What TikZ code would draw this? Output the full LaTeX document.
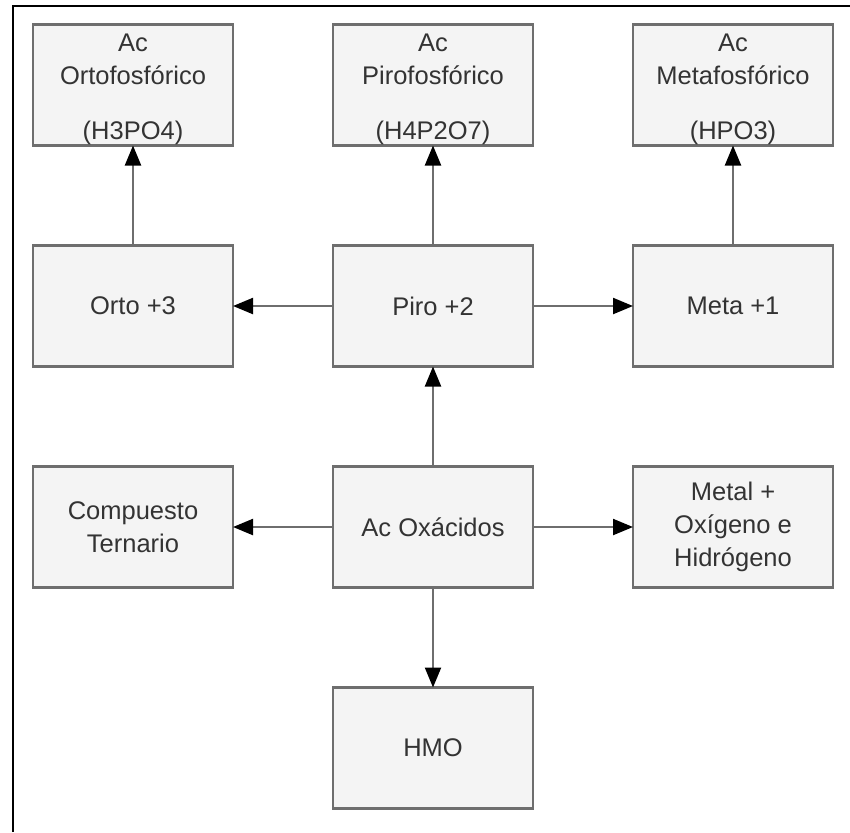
\documentclass[tikz,border=0pt]{standalone}
\usepackage{fontspec}
\setmainfont{Liberation Sans}
\usetikzlibrary{arrows.meta,positioning}
\definecolor{boxfill}{HTML}{F4F4F4}
\definecolor{boxline}{HTML}{6E6E6E}
\definecolor{boxtext}{HTML}{333333}
\newcommand{\acidtop}{\rule{0pt}{13.5pt}}
\tikzset{
  box/.style={draw=boxline,fill=boxfill,line width=1.1pt,rectangle,
    minimum width=100pt,minimum height=60.5pt,align=center,outer sep=0pt,
    inner xsep=2pt,inner ysep=-6pt,
    text=boxtext,font=\fontsize{12.75}{16.5}\selectfont},
  link/.style={draw=boxline,line width=1.1pt,
    -{Triangle[length=10pt,width=8pt,color=black,fill=black]}}
}

\begin{document}
\begin{tikzpicture}[node distance=50pt]
  \useasboundingbox (0,0) rectangle (425pt,-416pt);
  % frame of the screenshot
  \draw[line width=1.2pt] (6.5pt,-416pt) -- (6.5pt,-3pt) -- (425pt,-3pt);

  \node[box] (oxa) at (216.5pt,-263.5pt) {Ac Ox\'acidos};
  \node[box,left=of oxa] (tern) {Compuesto\\Ternario};
  \node[box,right=of oxa] (metal) {Metal +\\Ox\'igeno e\\Hidr\'ogeno};
  \node[box,below=of oxa] (hmo) {HMO};
  \node[box,above=of oxa] (piro) {Piro +2};
  \node[box,left=of piro] (orto) {Orto +3};
  \node[box,right=of piro] (meta) {Meta +1};
  \node[box,above=of orto] (acorto) {\acidtop Ac\\Ortofosf\'orico\\[11pt](H3PO4)};
  \node[box,above=of piro] (acpiro) {\acidtop Ac\\Pirofosf\'orico\\[11pt](H4P2O7)};
  \node[box,above=of meta] (acmeta) {\acidtop Ac\\Metafosf\'orico\\[11pt](HPO3)};

  \draw[link] (oxa) -- (tern);
  \draw[link] (oxa) -- (metal);
  \draw[link] (oxa) -- (hmo);
  \draw[link] (oxa) -- (piro);
  \draw[link] (piro) -- (orto);
  \draw[link] (piro) -- (meta);
  \draw[link] (piro) -- (acpiro);
  \draw[link] (orto) -- (acorto);
  \draw[link] (meta) -- (acmeta);
\end{tikzpicture}
\end{document}
